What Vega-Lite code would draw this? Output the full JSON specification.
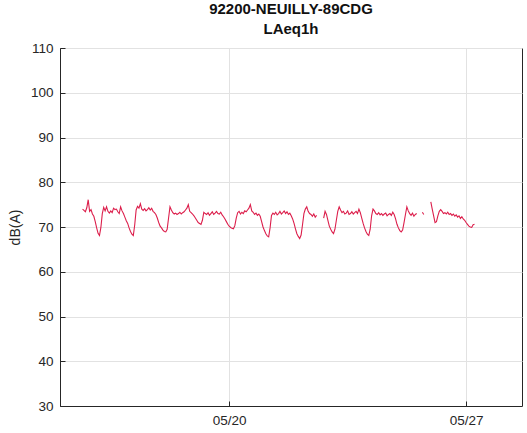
{
  "$schema": "https://vega.github.io/schema/vega-lite/v6.json",
  "width": 462,
  "height": 358,
  "autosize": {"type": "none"},
  "padding": {"left": 60, "top": 48, "right": 5, "bottom": 27},
  "background": "white",
  "title": {
    "text": ["92200-NEUILLY-89CDG", "LAeq1h"],
    "font": "Liberation Sans",
    "fontSize": 15,
    "fontWeight": "bold",
    "color": "#111111",
    "lineHeight": 20,
    "anchor": "middle",
    "offset": 4
  },
  "config": {
    "view": {"stroke": "#262626", "strokeWidth": 1},
    "axis": {
      "labelFont": "Liberation Sans",
      "titleFont": "Liberation Sans",
      "labelFontSize": 13.5,
      "labelColor": "#262626",
      "titleColor": "#262626",
      "domainColor": "#262626",
      "tickColor": "#262626",
      "gridColor": "#E2E2E2",
      "gridWidth": 1
    }
  },
  "data": {
    "values": [
      {"t": "2023-05-15T16:00", "v": 74.0}, {"t": "2023-05-15T17:00", "v": 73.7}, {"t": "2023-05-15T18:00", "v": 73.4}, {"t": "2023-05-15T19:00", "v": 74.3}, {"t": "2023-05-15T20:00", "v": 76.1}, {"t": "2023-05-15T21:00", "v": 73.5}, {"t": "2023-05-15T22:00", "v": 73.9}, {"t": "2023-05-15T23:00", "v": 72.9},
      {"t": "2023-05-16T00:00", "v": 72.4}, {"t": "2023-05-16T01:00", "v": 71.2}, {"t": "2023-05-16T02:00", "v": 69.8}, {"t": "2023-05-16T03:00", "v": 68.6}, {"t": "2023-05-16T04:00", "v": 68.1}, {"t": "2023-05-16T05:00", "v": 69.9}, {"t": "2023-05-16T06:00", "v": 73.0}, {"t": "2023-05-16T07:00", "v": 74.4}, {"t": "2023-05-16T08:00", "v": 73.6}, {"t": "2023-05-16T09:00", "v": 74.5}, {"t": "2023-05-16T10:00", "v": 73.5}, {"t": "2023-05-16T11:00", "v": 73.1}, {"t": "2023-05-16T12:00", "v": 73.6}, {"t": "2023-05-16T13:00", "v": 73.2}, {"t": "2023-05-16T14:00", "v": 74.2}, {"t": "2023-05-16T15:00", "v": 73.9}, {"t": "2023-05-16T16:00", "v": 74.0}, {"t": "2023-05-16T17:00", "v": 73.4}, {"t": "2023-05-16T18:00", "v": 73.0}, {"t": "2023-05-16T19:00", "v": 74.5}, {"t": "2023-05-16T20:00", "v": 73.6}, {"t": "2023-05-16T21:00", "v": 73.0}, {"t": "2023-05-16T22:00", "v": 72.2}, {"t": "2023-05-16T23:00", "v": 71.4},
      {"t": "2023-05-17T00:00", "v": 70.8}, {"t": "2023-05-17T01:00", "v": 69.8}, {"t": "2023-05-17T02:00", "v": 69.0}, {"t": "2023-05-17T03:00", "v": 68.4}, {"t": "2023-05-17T04:00", "v": 68.1}, {"t": "2023-05-17T05:00", "v": 70.5}, {"t": "2023-05-17T06:00", "v": 73.8}, {"t": "2023-05-17T07:00", "v": 74.6}, {"t": "2023-05-17T08:00", "v": 74.2}, {"t": "2023-05-17T09:00", "v": 75.2}, {"t": "2023-05-17T10:00", "v": 74.0}, {"t": "2023-05-17T11:00", "v": 73.7}, {"t": "2023-05-17T12:00", "v": 74.1}, {"t": "2023-05-17T13:00", "v": 73.6}, {"t": "2023-05-17T14:00", "v": 73.9}, {"t": "2023-05-17T15:00", "v": 74.3}, {"t": "2023-05-17T16:00", "v": 73.8}, {"t": "2023-05-17T17:00", "v": 74.2}, {"t": "2023-05-17T18:00", "v": 73.5}, {"t": "2023-05-17T19:00", "v": 73.2}, {"t": "2023-05-17T20:00", "v": 72.8}, {"t": "2023-05-17T21:00", "v": 72.0}, {"t": "2023-05-17T22:00", "v": 71.0}, {"t": "2023-05-17T23:00", "v": 70.2},
      {"t": "2023-05-18T00:00", "v": 69.8}, {"t": "2023-05-18T01:00", "v": 69.3}, {"t": "2023-05-18T02:00", "v": 69.0}, {"t": "2023-05-18T03:00", "v": 68.9}, {"t": "2023-05-18T04:00", "v": 69.5}, {"t": "2023-05-18T05:00", "v": 72.0}, {"t": "2023-05-18T06:00", "v": 74.5}, {"t": "2023-05-18T07:00", "v": 73.8}, {"t": "2023-05-18T08:00", "v": 73.2}, {"t": "2023-05-18T09:00", "v": 72.9}, {"t": "2023-05-18T10:00", "v": 73.1}, {"t": "2023-05-18T11:00", "v": 72.8}, {"t": "2023-05-18T12:00", "v": 73.0}, {"t": "2023-05-18T13:00", "v": 73.3}, {"t": "2023-05-18T14:00", "v": 72.9}, {"t": "2023-05-18T15:00", "v": 73.2}, {"t": "2023-05-18T16:00", "v": 73.4}, {"t": "2023-05-18T17:00", "v": 73.8}, {"t": "2023-05-18T18:00", "v": 74.2}, {"t": "2023-05-18T19:00", "v": 75.0}, {"t": "2023-05-18T20:00", "v": 73.5}, {"t": "2023-05-18T21:00", "v": 73.2}, {"t": "2023-05-18T22:00", "v": 72.9}, {"t": "2023-05-18T23:00", "v": 72.5},
      {"t": "2023-05-19T00:00", "v": 72.0}, {"t": "2023-05-19T01:00", "v": 71.5}, {"t": "2023-05-19T02:00", "v": 71.0}, {"t": "2023-05-19T03:00", "v": 70.8}, {"t": "2023-05-19T04:00", "v": 70.6}, {"t": "2023-05-19T05:00", "v": 71.5}, {"t": "2023-05-19T06:00", "v": 73.3}, {"t": "2023-05-19T07:00", "v": 73.0}, {"t": "2023-05-19T08:00", "v": 72.8}, {"t": "2023-05-19T09:00", "v": 73.2}, {"t": "2023-05-19T10:00", "v": 72.6}, {"t": "2023-05-19T11:00", "v": 73.0}, {"t": "2023-05-19T12:00", "v": 73.4}, {"t": "2023-05-19T13:00", "v": 72.8}, {"t": "2023-05-19T14:00", "v": 73.1}, {"t": "2023-05-19T15:00", "v": 73.5}, {"t": "2023-05-19T16:00", "v": 73.0}, {"t": "2023-05-19T17:00", "v": 72.9}, {"t": "2023-05-19T18:00", "v": 73.3}, {"t": "2023-05-19T19:00", "v": 72.7}, {"t": "2023-05-19T20:00", "v": 72.3}, {"t": "2023-05-19T21:00", "v": 71.8}, {"t": "2023-05-19T22:00", "v": 71.2}, {"t": "2023-05-19T23:00", "v": 70.6},
      {"t": "2023-05-20T00:00", "v": 70.2}, {"t": "2023-05-20T01:00", "v": 69.9}, {"t": "2023-05-20T02:00", "v": 69.7}, {"t": "2023-05-20T03:00", "v": 69.6}, {"t": "2023-05-20T04:00", "v": 70.3}, {"t": "2023-05-20T05:00", "v": 72.0}, {"t": "2023-05-20T06:00", "v": 73.2}, {"t": "2023-05-20T07:00", "v": 73.5}, {"t": "2023-05-20T08:00", "v": 72.9}, {"t": "2023-05-20T09:00", "v": 73.3}, {"t": "2023-05-20T10:00", "v": 73.0}, {"t": "2023-05-20T11:00", "v": 73.6}, {"t": "2023-05-20T12:00", "v": 73.4}, {"t": "2023-05-20T13:00", "v": 73.8}, {"t": "2023-05-20T14:00", "v": 74.2}, {"t": "2023-05-20T15:00", "v": 75.0}, {"t": "2023-05-20T16:00", "v": 73.6}, {"t": "2023-05-20T17:00", "v": 73.3}, {"t": "2023-05-20T18:00", "v": 72.8}, {"t": "2023-05-20T19:00", "v": 73.1}, {"t": "2023-05-20T20:00", "v": 72.6}, {"t": "2023-05-20T21:00", "v": 72.9}, {"t": "2023-05-20T22:00", "v": 72.4}, {"t": "2023-05-20T23:00", "v": 71.2},
      {"t": "2023-05-21T00:00", "v": 70.0}, {"t": "2023-05-21T01:00", "v": 69.2}, {"t": "2023-05-21T02:00", "v": 68.5}, {"t": "2023-05-21T03:00", "v": 68.0}, {"t": "2023-05-21T04:00", "v": 67.8}, {"t": "2023-05-21T05:00", "v": 69.8}, {"t": "2023-05-21T06:00", "v": 72.6}, {"t": "2023-05-21T07:00", "v": 73.1}, {"t": "2023-05-21T08:00", "v": 72.8}, {"t": "2023-05-21T09:00", "v": 73.3}, {"t": "2023-05-21T10:00", "v": 72.7}, {"t": "2023-05-21T11:00", "v": 73.0}, {"t": "2023-05-21T12:00", "v": 73.5}, {"t": "2023-05-21T13:00", "v": 72.9}, {"t": "2023-05-21T14:00", "v": 73.2}, {"t": "2023-05-21T15:00", "v": 73.6}, {"t": "2023-05-21T16:00", "v": 73.0}, {"t": "2023-05-21T17:00", "v": 73.4}, {"t": "2023-05-21T18:00", "v": 72.8}, {"t": "2023-05-21T19:00", "v": 73.1}, {"t": "2023-05-21T20:00", "v": 72.5}, {"t": "2023-05-21T21:00", "v": 71.8}, {"t": "2023-05-21T22:00", "v": 70.8}, {"t": "2023-05-21T23:00", "v": 69.6},
      {"t": "2023-05-22T00:00", "v": 68.5}, {"t": "2023-05-22T01:00", "v": 67.9}, {"t": "2023-05-22T02:00", "v": 67.4}, {"t": "2023-05-22T03:00", "v": 68.2}, {"t": "2023-05-22T04:00", "v": 70.5}, {"t": "2023-05-22T05:00", "v": 73.0}, {"t": "2023-05-22T06:00", "v": 74.0}, {"t": "2023-05-22T07:00", "v": 74.5}, {"t": "2023-05-22T08:00", "v": 73.5}, {"t": "2023-05-22T09:00", "v": 73.0}, {"t": "2023-05-22T10:00", "v": 72.8}, {"t": "2023-05-22T11:00", "v": 72.4}, {"t": "2023-05-22T12:00", "v": 72.9}, {"t": "2023-05-22T13:00", "v": 72.2}, {"t": "2023-05-22T14:00", "v": 72.6}, {"t": "2023-05-22T15:00", "v": null}, {"t": "2023-05-22T16:00", "v": null}, {"t": "2023-05-22T17:00", "v": null}, {"t": "2023-05-22T18:00", "v": null}, {"t": "2023-05-22T19:00", "v": 72.0}, {"t": "2023-05-22T20:00", "v": 73.5}, {"t": "2023-05-22T21:00", "v": 72.8}, {"t": "2023-05-22T22:00", "v": 71.5}, {"t": "2023-05-22T23:00", "v": 70.2},
      {"t": "2023-05-23T00:00", "v": 69.5}, {"t": "2023-05-23T01:00", "v": 68.9}, {"t": "2023-05-23T02:00", "v": 68.5}, {"t": "2023-05-23T03:00", "v": 69.5}, {"t": "2023-05-23T04:00", "v": 71.5}, {"t": "2023-05-23T05:00", "v": 73.5}, {"t": "2023-05-23T06:00", "v": 74.5}, {"t": "2023-05-23T07:00", "v": 73.8}, {"t": "2023-05-23T08:00", "v": 73.2}, {"t": "2023-05-23T09:00", "v": 73.5}, {"t": "2023-05-23T10:00", "v": 72.9}, {"t": "2023-05-23T11:00", "v": 73.1}, {"t": "2023-05-23T12:00", "v": 73.6}, {"t": "2023-05-23T13:00", "v": 72.8}, {"t": "2023-05-23T14:00", "v": 73.0}, {"t": "2023-05-23T15:00", "v": 73.4}, {"t": "2023-05-23T16:00", "v": 72.9}, {"t": "2023-05-23T17:00", "v": 73.2}, {"t": "2023-05-23T18:00", "v": 73.5}, {"t": "2023-05-23T19:00", "v": 73.0}, {"t": "2023-05-23T20:00", "v": 74.0}, {"t": "2023-05-23T21:00", "v": 73.2}, {"t": "2023-05-23T22:00", "v": 72.0}, {"t": "2023-05-23T23:00", "v": 70.8},
      {"t": "2023-05-24T00:00", "v": 69.8}, {"t": "2023-05-24T01:00", "v": 69.0}, {"t": "2023-05-24T02:00", "v": 68.4}, {"t": "2023-05-24T03:00", "v": 68.1}, {"t": "2023-05-24T04:00", "v": 69.5}, {"t": "2023-05-24T05:00", "v": 72.5}, {"t": "2023-05-24T06:00", "v": 74.0}, {"t": "2023-05-24T07:00", "v": 73.6}, {"t": "2023-05-24T08:00", "v": 73.0}, {"t": "2023-05-24T09:00", "v": 72.8}, {"t": "2023-05-24T10:00", "v": 73.2}, {"t": "2023-05-24T11:00", "v": 72.7}, {"t": "2023-05-24T12:00", "v": 73.0}, {"t": "2023-05-24T13:00", "v": 72.6}, {"t": "2023-05-24T14:00", "v": 72.9}, {"t": "2023-05-24T15:00", "v": 73.1}, {"t": "2023-05-24T16:00", "v": 72.5}, {"t": "2023-05-24T17:00", "v": 72.8}, {"t": "2023-05-24T18:00", "v": 73.0}, {"t": "2023-05-24T19:00", "v": 72.6}, {"t": "2023-05-24T20:00", "v": 73.3}, {"t": "2023-05-24T21:00", "v": 72.8}, {"t": "2023-05-24T22:00", "v": 71.8}, {"t": "2023-05-24T23:00", "v": 70.6},
      {"t": "2023-05-25T00:00", "v": 69.8}, {"t": "2023-05-25T01:00", "v": 69.2}, {"t": "2023-05-25T02:00", "v": 68.9}, {"t": "2023-05-25T03:00", "v": 69.3}, {"t": "2023-05-25T04:00", "v": 71.0}, {"t": "2023-05-25T05:00", "v": 72.8}, {"t": "2023-05-25T06:00", "v": 74.5}, {"t": "2023-05-25T07:00", "v": 73.6}, {"t": "2023-05-25T08:00", "v": 73.0}, {"t": "2023-05-25T09:00", "v": 72.6}, {"t": "2023-05-25T10:00", "v": 73.1}, {"t": "2023-05-25T11:00", "v": 72.4}, {"t": "2023-05-25T12:00", "v": 72.8}, {"t": "2023-05-25T13:00", "v": 73.0}, {"t": "2023-05-25T14:00", "v": null}, {"t": "2023-05-25T15:00", "v": null}, {"t": "2023-05-25T16:00", "v": null}, {"t": "2023-05-25T17:00", "v": 73.3}, {"t": "2023-05-25T18:00", "v": 72.8}, {"t": "2023-05-25T19:00", "v": null}, {"t": "2023-05-25T20:00", "v": null}, {"t": "2023-05-25T21:00", "v": null}, {"t": "2023-05-25T22:00", "v": null}, {"t": "2023-05-25T23:00", "v": 75.6},
      {"t": "2023-05-26T00:00", "v": 74.0}, {"t": "2023-05-26T01:00", "v": 72.5}, {"t": "2023-05-26T02:00", "v": 71.0}, {"t": "2023-05-26T03:00", "v": 71.2}, {"t": "2023-05-26T04:00", "v": 72.5}, {"t": "2023-05-26T05:00", "v": 73.5}, {"t": "2023-05-26T06:00", "v": 73.9}, {"t": "2023-05-26T07:00", "v": 73.5}, {"t": "2023-05-26T08:00", "v": 73.0}, {"t": "2023-05-26T09:00", "v": 73.2}, {"t": "2023-05-26T10:00", "v": 72.9}, {"t": "2023-05-26T11:00", "v": 73.3}, {"t": "2023-05-26T12:00", "v": 72.8}, {"t": "2023-05-26T13:00", "v": 73.0}, {"t": "2023-05-26T14:00", "v": 72.6}, {"t": "2023-05-26T15:00", "v": 72.9}, {"t": "2023-05-26T16:00", "v": 72.4}, {"t": "2023-05-26T17:00", "v": 72.7}, {"t": "2023-05-26T18:00", "v": 72.2}, {"t": "2023-05-26T19:00", "v": 72.5}, {"t": "2023-05-26T20:00", "v": 71.9}, {"t": "2023-05-26T21:00", "v": 72.3}, {"t": "2023-05-26T22:00", "v": 71.8}, {"t": "2023-05-26T23:00", "v": 71.5},
      {"t": "2023-05-27T00:00", "v": 71.0}, {"t": "2023-05-27T01:00", "v": 70.6}, {"t": "2023-05-27T02:00", "v": 70.2}, {"t": "2023-05-27T03:00", "v": 70.0}, {"t": "2023-05-27T04:00", "v": 69.9}, {"t": "2023-05-27T05:00", "v": 70.5}, {"t": "2023-05-27T06:00", "v": 70.6}
    ]
  },
  "mark": {"type": "line", "color": "#DC1E4B", "strokeWidth": 1.1, "invalid": "break-paths-show-domains"},
  "encoding": {
    "x": {
      "field": "t",
      "type": "temporal",
      "scale": {"domain": ["2023-05-15T00:00", "2023-05-28T15:40"]},
      "axis": {
        "title": null,
        "values": ["2023-05-20T00:00", "2023-05-27T00:00"],
        "format": "%m/%d",
        "tickSize": -5,
        "labelPadding": 12,
        "grid": true
      }
    },
    "y": {
      "field": "v",
      "type": "quantitative",
      "scale": {"domain": [30, 110], "nice": false, "zero": false},
      "axis": {
        "title": "dB(A)",
        "titleFontSize": 14,
        "titleFontWeight": "normal",
        "titlePadding": 8,
        "values": [30, 40, 50, 60, 70, 80, 90, 100, 110],
        "tickSize": -5,
        "labelPadding": 12,
        "grid": true
      }
    }
  }
}
